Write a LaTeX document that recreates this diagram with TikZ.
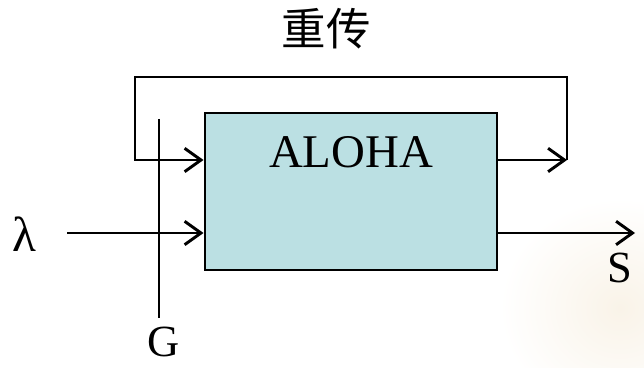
\documentclass[tikz,border=0pt]{standalone}
\usepackage{fontspec}
\setmainfont{Liberation Serif}
\newfontfamily\cjk{Noto Sans CJK SC}
\usetikzlibrary{arrows.meta}

\definecolor{boxcyan}{RGB}{187,224,227}
\definecolor{hazebeige}{RGB}{249,243,232}

\begin{document}
\begin{tikzpicture}[x=0.03cm,y=0.03cm,line width=2.5pt,
  >={Straight Barb[length=14pt,width=20pt]},
  lbl/.style={font=\fontsize{38}{40}\selectfont,inner sep=0pt}]
  \useasboundingbox (0,0) rectangle (644,368);
  % faint backdrop in the lower right corner
  \begin{scope}
    \clip (0,0) rectangle (644,368);
    \shade[inner color=hazebeige,outer color=white,draw=none] (620,60) ellipse (120 and 110);
  \end{scope}

  \node[draw,fill=boxcyan,minimum width=8.76cm,minimum height=4.71cm,inner sep=0pt] (aloha) at (351,176.5) {};
  \node[lbl,font=\fontsize{40}{42}\selectfont] (name) at (351,216) {ALOHA};
  \node[lbl,font=\cjk\fontsize{38}{40}\selectfont] (retx) at (326,339) {重传};
  \node[lbl,font=\fontsize{42}{44}\selectfont] (lam) at (24,134) {λ};
  \node[lbl] (g) at (164,26) {G};
  \node[lbl] (s) at (620,100) {S};

  \coordinate (fbin) at (135,208);
  \coordinate (fbout) at (567,208);
  \coordinate (in) at (67,135);
  \coordinate (out) at (635,135);
  \coordinate (gtop) at (159,249);
  \coordinate (gbot) at (159,50);

  % retransmission loop
  \draw[->] (aloha.east |- fbout) -- (fbout);
  \draw[->] (fbout) -- ++(0,83) -| (fbin) -- (aloha.west |- fbin);
  % offered traffic and throughput
  \draw[->] (in) -- (aloha.west |- in);
  \draw[->] (aloha.east |- out) -- (out);
  \draw (gtop) -- (gbot);
\end{tikzpicture}
\end{document}
